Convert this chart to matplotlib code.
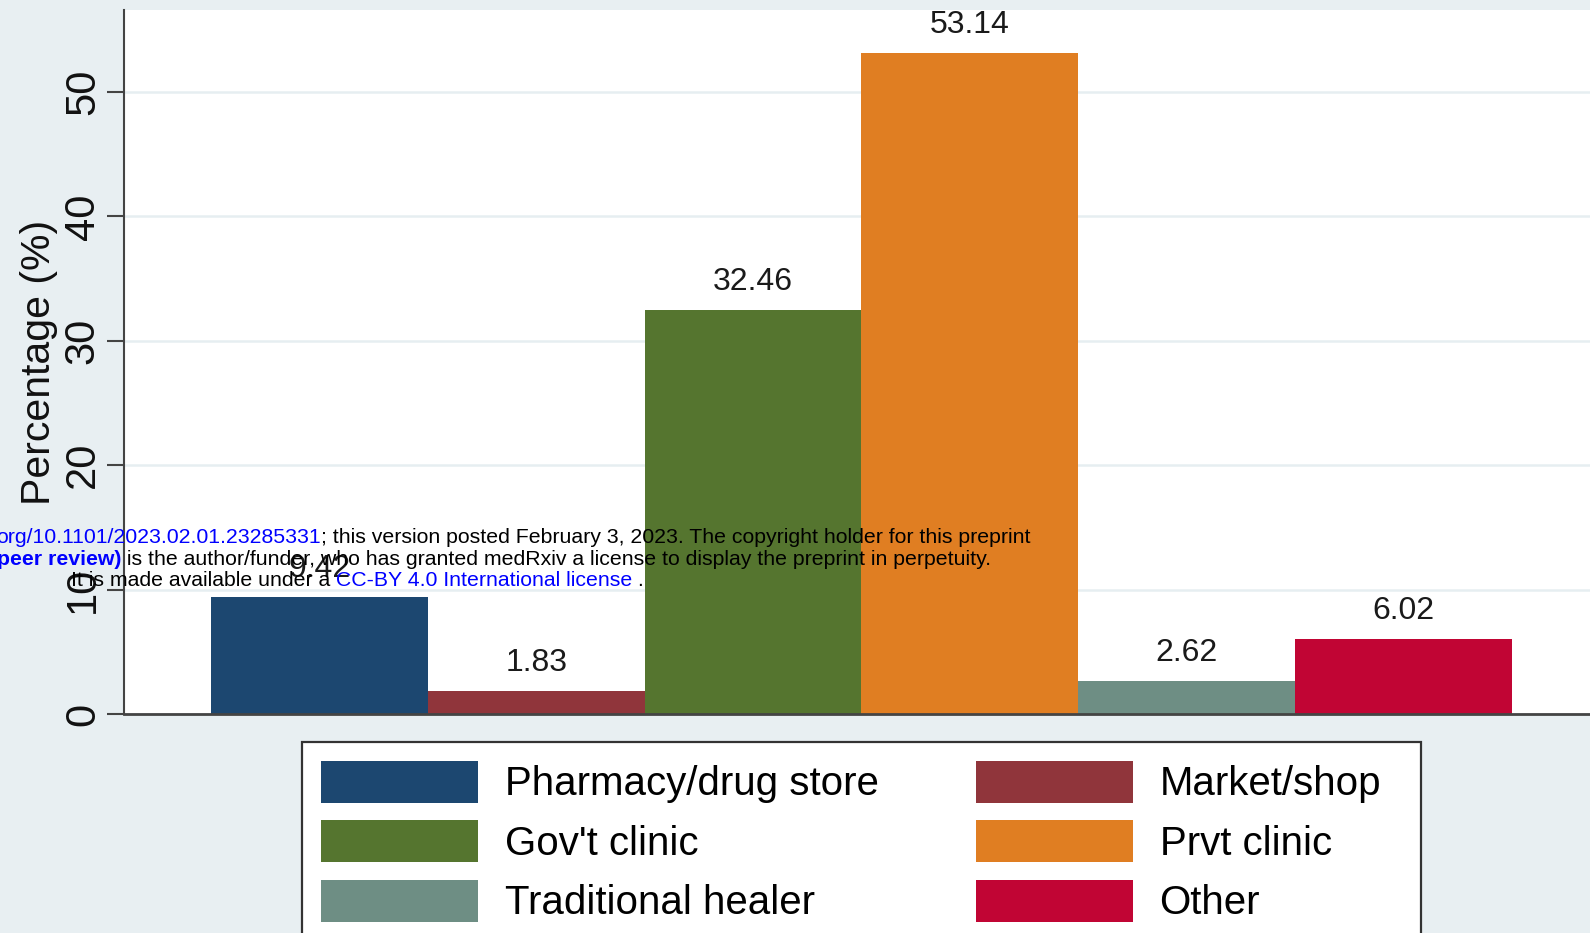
import matplotlib
matplotlib.use('Agg')
import matplotlib.pyplot as plt
from matplotlib.patches import Rectangle

plt.rcParams['font.family'] = ['Liberation Sans', 'DejaVu Sans']

# Datos: lugar donde se buscó atención (%)
categorias = ['Pharmacy/drug store', 'Market/shop', "Gov't clinic",
              'Prvt clinic', 'Traditional healer', 'Other']
porcentajes = [9.42, 1.83, 32.46, 53.14, 2.62, 6.02]
colores = ['#1c4770', '#90353b', '#55752f', '#e07e22', '#6e8e84', '#c10534']
yticks = [0, 10, 20, 30, 40, 50]
# orden de la leyenda (dos columnas, se llena por columna)
orden_leyenda = [0, 2, 4, 1, 3, 5]

# Texto de marca de agua de medRxiv que cae encima del gráfico
aviso = [
    [('org/10.1101/2023.02.01.23285331', '#0000ff', 'normal'),
     ('; this version posted February 3, 2023. The copyright holder for this preprint', 'black', 'normal')],
    [('peer review)', '#0000ff', 'bold'),
     (' is the author/funder, who has granted medRxiv a license to display the preprint in perpetuity.', 'black', 'normal')],
    [('It is made available under a', 'black', 'normal'),
     (' CC-BY 4.0 International license', '#0000ff', 'normal'),
     (' .', 'black', 'normal')],
]

W, H = 1590, 933
fondo = '#e8eff2'

fig = plt.figure(figsize=(W / 100, H / 100), dpi=100, facecolor=fondo)
ax = fig.add_axes([124 / W, 1 - 714 / H, 1 - 124 / W, (714 - 10) / H])
ax.set_facecolor('white')

x = list(range(len(categorias)))
barras = ax.bar(x, porcentajes, width=1.0, color=colores, zorder=2)
ax.bar_label(barras, labels=[f'{v:.2f}' for v in porcentajes],
             padding=9.5, fontsize=23, color='#1a1a1a')

ax.set_xlim(-0.901, 5.86)
ax.set_ylim(0, 56.59)
ax.set_xticks([])
ax.set_yticks(yticks)
ax.set_yticklabels([str(t) for t in yticks], rotation=90, va='center')
ax.tick_params(axis='y', length=12.2, width=1.5, color='#444444',
               labelsize=30, pad=3, labelcolor='#111111')
ax.yaxis.grid(True, color='#e6eef1', linewidth=1.8, zorder=0)
ax.set_axisbelow(True)

for lado in ['top', 'right']:
    ax.spines[lado].set_visible(False)
ax.spines['left'].set_color('#444444')
ax.spines['left'].set_linewidth(1.5)
ax.spines['bottom'].set_color('#444444')
ax.spines['bottom'].set_linewidth(2)
ax.spines['bottom'].set_zorder(3)

ax.set_ylabel('Percentage (%)', fontsize=29.5, color='#111111')
ax.yaxis.set_label_coords(-0.045, 0.5)

# Marco de la leyenda (más ancho que el contenido, como en el original)
marco = Rectangle((302 / W, 1 - 960 / H), (1421 - 302) / W, (960 - 742) / H,
                  transform=fig.transFigure, facecolor='white',
                  edgecolor='#333333', linewidth=1.6, zorder=1)
fig.add_artist(marco)

fig.legend([barras[i] for i in orden_leyenda],
           [categorias[i] for i in orden_leyenda],
           loc='upper left', bbox_to_anchor=(302 / W, 1 - 742 / H),
           ncol=2, frameon=False, fontsize=29, handlelength=3.9,
           handleheight=1.23, handletextpad=0.67, columnspacing=2.41,
           labelspacing=0.42, borderpad=0.46, borderaxespad=0)

# Marca de agua encadenando los trozos de texto
renderer = fig.canvas.get_renderer()
inicios = [-4, -3, 71]
bases = [543, 565, 586]
for fila, x0, yb in zip(aviso, inicios, bases):
    xp = x0
    for s, c, peso in fila:
        t = fig.text(xp / W, 1 - yb / H, s, color=c, fontweight=peso,
                     fontsize=15.3, va='baseline', zorder=10)
        xp = t.get_window_extent(renderer).x1

fig.savefig('out.png', dpi=100, facecolor=fondo)
